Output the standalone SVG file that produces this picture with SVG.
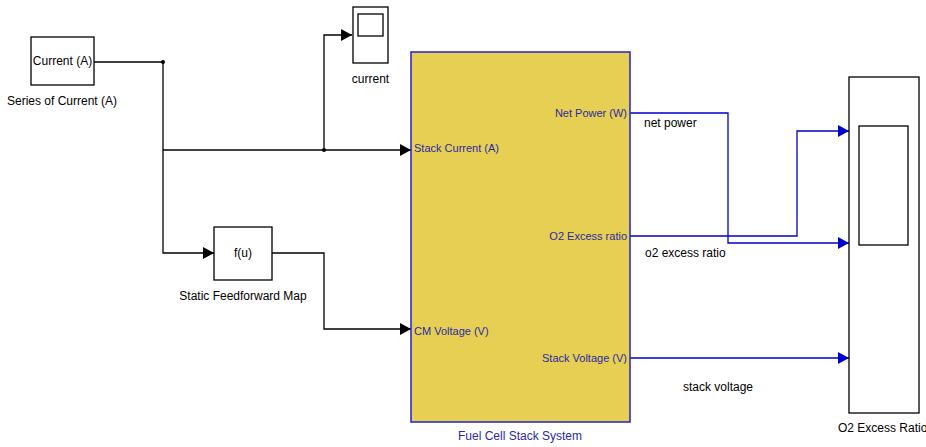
<svg xmlns="http://www.w3.org/2000/svg" width="926" height="447" viewBox="0 0 926 447">
<defs>
<marker id="ab" markerWidth="11" markerHeight="12" refX="11" refY="6" orient="auto" markerUnits="userSpaceOnUse"><path d="M0,0 L11,6 L0,12 Z" fill="#000"/></marker>
<marker id="ablue" markerWidth="11" markerHeight="12" refX="11" refY="6" orient="auto" markerUnits="userSpaceOnUse"><path d="M0,0 L11,6 L0,12 Z" fill="#0000cc"/></marker>
<style>
text{font-family:"Liberation Sans",Arial,sans-serif;font-size:12px;fill:#000}
.blk{fill:#fff;stroke:#000;stroke-width:1.3}
.k{fill:none;stroke:#000;stroke-width:1.3}
.b{fill:none;stroke:#0000cc;stroke-width:1.3}
.port{fill:#2a2aa8;font-size:11px}
</style>
</defs>
<rect width="926" height="447" fill="#fff"/>
<g id="connectors">
<path class="k" d="M94,62 H163 V253 H214" marker-end="url(#ab)"/>
<path class="k" d="M163,150 H411" marker-end="url(#ab)"/>
<path class="k" d="M324,150 V35 H352" marker-end="url(#ab)"/>
<path class="k" d="M272,253 H324 V329 H411" marker-end="url(#ab)"/>
<circle cx="163" cy="62" r="2" fill="#000"/>
<circle cx="324" cy="150" r="2" fill="#000"/>
<path class="b" d="M630,113 H728 V243 H849" marker-end="url(#ablue)"/>
<path class="b" d="M630,236 H797 V131 H849" marker-end="url(#ablue)"/>
<path class="b" d="M630,358 H849" marker-end="url(#ablue)"/>
<text x="644" y="127">net power</text>
<text x="645" y="257">o2 excess ratio</text>
<text x="683" y="391">stack voltage</text>
</g>
<g id="current-source">
<rect class="blk" x="31" y="37" width="63" height="48"/>
<text x="62.5" y="65" text-anchor="middle">Current (A)</text>
<text x="7" y="105">Series of Current (A)</text>
</g>
<g id="scope-current">
<rect class="blk" x="353" y="7" width="35" height="56"/>
<rect class="blk" x="358" y="14" width="25" height="22"/>
<text x="370.5" y="83" text-anchor="middle">current</text>
</g>
<g id="feedforward">
<rect class="blk" x="214" y="227" width="58" height="53"/>
<text x="243" y="257" text-anchor="middle">f(u)</text>
<text x="243" y="300" text-anchor="middle">Static Feedforward Map</text>
</g>
<g id="fuel-cell">
<rect x="411" y="52" width="219" height="370" fill="#e6cf52" stroke="#2222cc" stroke-width="1.5"/>
<text class="port" x="627" y="117" text-anchor="end">Net Power (W)</text>
<text class="port" x="414" y="152">Stack Current (A)</text>
<text class="port" x="627" y="240" text-anchor="end">O2 Excess ratio</text>
<text class="port" x="414" y="335">CM Voltage (V)</text>
<text class="port" x="627" y="362" text-anchor="end">Stack Voltage (V)</text>
<text class="port" x="520" y="440" text-anchor="middle" style="font-size:12px">Fuel Cell Stack System</text>
</g>
<g id="scope-o2">
<rect class="blk" x="849" y="77" width="70" height="336"/>
<rect class="blk" x="859" y="126" width="49" height="119"/>
<text x="838" y="432">O2 Excess Ratio</text>
</g>
</svg>
